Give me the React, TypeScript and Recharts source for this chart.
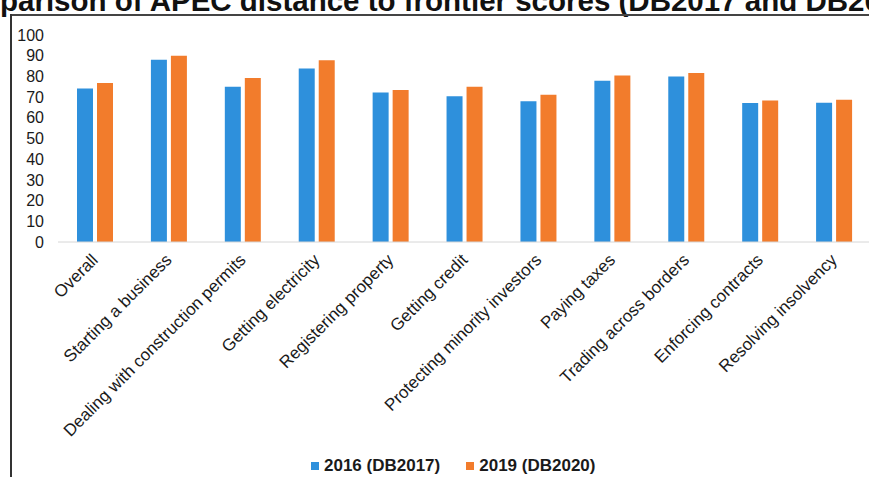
import { BarChart, Bar, XAxis, YAxis, Legend } from 'recharts'

const categories = [
  'Overall',
  'Starting a business',
  'Dealing with construction permits',
  'Getting electricity',
  'Registering property',
  'Getting credit',
  'Protecting minority investors',
  'Paying taxes',
  'Trading across borders',
  'Enforcing contracts',
  'Resolving insolvency',
]
const scores2016 = [74.2, 88.0, 75.0, 83.8, 72.2, 70.4, 68.0, 77.9, 80.0, 67.1, 67.3]
const scores2019 = [76.8, 90.0, 79.2, 87.8, 73.4, 75.0, 71.1, 80.4, 81.7, 68.4, 68.7]
const yTicks = [0, 10, 20, 30, 40, 50, 60, 70, 80, 90, 100]

const BLUE = '#2e90dc'
const ORANGE = '#f27c2c'
const FONT = '"Liberation Sans", Arial, sans-serif'

const data = categories.map((name, i) => ({
  name,
  y2016: scores2016[i],
  y2019: scores2019[i],
}))

function CategoryTick(props: any) {
  const { x, y, payload } = props
  return (
    <text
      x={x + 4}
      y={y + 11}
      transform={`rotate(-45, ${x + 4}, ${y + 11})`}
      textAnchor="end"
      fontSize={17}
      fontFamily={FONT}
      fill="#1a1a1a"
    >
      {payload.value}
    </text>
  )
}

function LegendContent() {
  const items = [
    { label: '2016 (DB2017)', color: BLUE },
    { label: '2019 (DB2020)', color: ORANGE },
  ]
  return (
    <div style={{ display: 'flex', height: 18, alignItems: 'center', fontFamily: FONT, lineHeight: '18px' }}>
      {items.map((it) => (
        <div key={it.label} style={{ display: 'flex', alignItems: 'center', marginRight: 26 }}>
          <span style={{ width: 8, height: 8, background: it.color, marginRight: 5, display: 'inline-block' }} />
          <span style={{ fontSize: 17, fontWeight: 'bold', color: '#1a1a1a' }}>{it.label}</span>
        </div>
      ))}
    </div>
  )
}

export default function App() {
  return (
    <div
      style={{
        position: 'fixed',
        left: 0,
        top: 0,
        width: 869,
        height: 477,
        overflow: 'hidden',
        background: '#fff',
      }}
    >
      <div
        style={{
          position: 'absolute',
          left: 0,
          top: -14,
          whiteSpace: 'nowrap',
          fontFamily: FONT,
          fontWeight: 'bold',
          fontSize: 29.5,
          lineHeight: '30px',
          color: '#111',
        }}
      >
        parison of APEC distance to frontier scores (DB2017 and DB2020)
      </div>
      <div style={{ position: 'absolute', left: 10, top: 14, width: 870, height: 2, background: '#444' }} />
      <div style={{ position: 'absolute', left: 10, top: 14, width: 2, height: 470, background: '#333' }} />
      <div style={{ position: 'absolute', left: 0, top: 0 }}>
        <BarChart
          width={880}
          height={477}
          data={data}
          margin={{ top: 35, right: 9, left: 0, bottom: 0 }}
          barCategoryGap="25%"
          barGap={4}
        >
          <XAxis
            dataKey="name"
            interval={0}
            tickLine={false}
            axisLine={{ stroke: '#d6d6d6' }}
            height={217}
            tick={<CategoryTick />}
          />
          <YAxis
            domain={[0, 100]}
            ticks={yTicks}
            interval={0}
            width={58}
            axisLine={false}
            tickLine={false}
            tickMargin={8}
            tick={{ fontSize: 16, fill: '#1a1a1a', fontFamily: FONT }}
          />
          <Legend
            verticalAlign="bottom"
            content={<LegendContent />}
            wrapperStyle={{ left: 311, top: 457, width: 320 }}
          />
          <Bar dataKey="y2016" name="2016 (DB2017)" fill={BLUE} barSize={16} isAnimationActive={false} />
          <Bar dataKey="y2019" name="2019 (DB2020)" fill={ORANGE} barSize={16} isAnimationActive={false} />
        </BarChart>
      </div>
    </div>
  )
}
